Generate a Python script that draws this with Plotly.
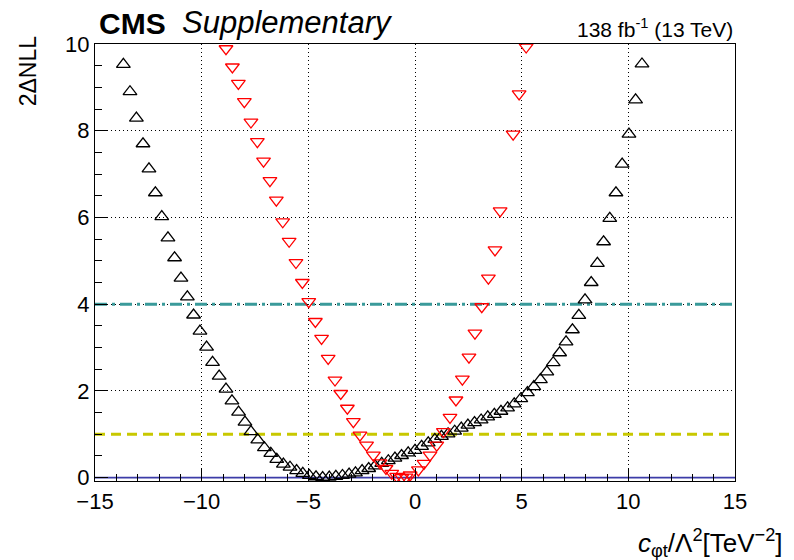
import plotly.graph_objects as go

# Likelihood scan points: observed (black) and expected (red)
obs_x = [-13.67, -13.36, -13.06, -12.75, -12.47, -12.17, -11.87, -11.58, -11.27, -10.97,
         -10.67, -10.38, -10.08, -9.77, -9.49, -9.18, -8.86, -8.58, -8.27, -7.97,
         -7.69, -7.37, -7.06, -6.76, -6.48, -6.17, -5.86, -5.55, -5.26, -4.95,
         -4.64, -4.33, -4.02, -3.71, -3.40, -3.09, -2.79, -2.48, -2.17, -1.87,
         -1.56, -1.25, -0.94, -0.63, -0.32, 0.00, 0.31, 0.62, 0.93, 1.24,
         1.55, 1.86, 2.17, 2.48, 2.79, 3.10, 3.41, 3.72, 4.03, 4.34,
         4.65, 4.96, 5.27, 5.57, 5.88, 6.18, 6.48, 6.78, 7.08, 7.38,
         7.68, 7.97, 8.26, 8.55, 8.84, 9.13, 9.42, 9.71, 10.03, 10.34, 10.64]
obs_y = [9.53, 8.90, 8.29, 7.70, 7.12, 6.57, 6.02, 5.53, 5.07, 4.60,
         4.17, 3.75, 3.38, 3.01, 2.66, 2.34, 2.04, 1.77, 1.51, 1.28,
         1.06, 0.87, 0.69, 0.56, 0.42, 0.31, 0.24, 0.16, 0.10, 0.05,
         0.02, 0.00, 0.01, 0.03, 0.05, 0.08, 0.11, 0.16, 0.21, 0.27,
         0.33, 0.39, 0.45, 0.51, 0.57, 0.63, 0.72, 0.80, 0.88, 0.95,
         1.01, 1.07, 1.14, 1.21, 1.27, 1.33, 1.40, 1.46, 1.53, 1.61,
         1.70, 1.82, 1.96, 2.10, 2.26, 2.44, 2.65, 2.88, 3.13, 3.41,
         3.74, 4.10, 4.50, 4.94, 5.44, 5.98, 6.57, 7.23, 7.92, 8.71, 9.54]

exp_x = [-8.86, -8.56, -8.28, -8.00, -7.69, -7.39, -7.10, -6.80, -6.50, -6.20,
         -5.90, -5.58, -5.28, -4.98, -4.67, -4.38, -4.07, -3.75, -3.48, -3.17,
         -2.89, -2.58, -2.27, -1.95, -1.64, -1.36, -1.09, -0.86, -0.62, -0.42,
         -0.23, 0.16, 0.42, 0.70, 1.02, 1.33, 1.64, 1.92, 2.22, 2.53,
         2.81, 3.13, 3.44, 3.75, 3.99, 4.60, 4.88, 5.21]
exp_y = [9.89, 9.47, 9.09, 8.67, 8.20, 7.75, 7.30, 6.85, 6.40, 5.90,
         5.45, 4.96, 4.50, 4.06, 3.60, 3.21, 2.75, 2.25, 1.94, 1.60,
         1.29, 0.98, 0.75, 0.52, 0.34, 0.21, 0.10, 0.03, 0.00, 0.01,
         0.06, 0.18, 0.33, 0.52, 0.75, 1.06, 1.39, 1.79, 2.27, 2.78,
         3.33, 3.94, 4.60, 5.25, 6.15, 7.92, 8.85, 9.93]

x_range = [-15, 15]
y_range = [-0.078, 10]
x_ticks = [-15, -10, -5, 0, 5, 10, 15]
y_ticks = [0, 2, 4, 6, 8, 10]

# Reference levels of 2ΔNLL
levels = [0, 1, 4]
level_colors = ["#3c3ca8", "#c8c800", "#3a9a9a"]
level_dash = ["solid", "10px,6px", "12px,5px,3px,5px"]
level_width = [1.6, 3, 3]

FONT = "Liberation Sans, Arial, Helvetica, sans-serif"

fig = go.Figure()

for lv, col, dsh, w in zip(levels, level_colors, level_dash, level_width):
    fig.add_trace(go.Scatter(
        x=x_range, y=[lv, lv], mode="lines",
        line=dict(color=col, dash=dsh, width=w),
        hoverinfo="skip", showlegend=False,
    ))

fig.add_trace(go.Scatter(
    x=obs_x, y=obs_y, mode="markers", showlegend=False,
    marker=dict(symbol="triangle-up-open", size=12, color="black",
                line=dict(width=1.3, color="black")),
))
fig.add_trace(go.Scatter(
    x=exp_x, y=exp_y, mode="markers", showlegend=False,
    marker=dict(symbol="triangle-down-open", size=12, color="red",
                line=dict(width=1.3, color="red")),
))

axis_common = dict(
    showline=True, linecolor="black", linewidth=1.2, mirror=True,
    ticks="inside", tickcolor="black", ticklen=13, tickwidth=1,
    showgrid=True, gridcolor="black", gridwidth=1, griddash="1px,3px",
    zeroline=False,
    tickfont=dict(family=FONT, size=22, color="black"),
)

fig.update_xaxes(
    range=x_range, tickmode="array", tickvals=x_ticks,
    minor=dict(ticks="inside", ticklen=7, tickcolor="black", dtick=1, showgrid=False),
    **axis_common,
)
fig.update_yaxes(
    range=y_range, tickmode="array", tickvals=y_ticks,
    minor=dict(ticks="inside", ticklen=7, tickcolor="black", dtick=0.5, tick0=0, showgrid=False),
    **axis_common,
)

fig.update_layout(
    width=794, height=560,
    margin=dict(l=95, r=59, t=44, b=79),
    paper_bgcolor="white", plot_bgcolor="white",
    font=dict(family=FONT, color="black"),
    annotations=[
        dict(text="<b>CMS</b>", x=0.003, y=1.0, xref="paper", yref="paper",
             xanchor="left", yanchor="bottom", yshift=2, showarrow=False,
             font=dict(family=FONT, size=30)),
        dict(text="<i>Supplementary</i>", x=0.133, y=1.0, xref="paper", yref="paper",
             xanchor="left", yanchor="bottom", yshift=2, showarrow=False,
             font=dict(family=FONT, size=31)),
        dict(text="138 fb<sup>-1</sup> (13 TeV)", x=1.0, y=1.0, xref="paper", yref="paper",
             xanchor="right", yanchor="bottom", yshift=1, showarrow=False,
             font=dict(family=FONT, size=21)),
        dict(text="2ΔNLL", x=-0.105, y=1.0, xref="paper", yref="paper",
             xanchor="center", yanchor="top", yshift=11, textangle=-90, showarrow=False,
             font=dict(family=FONT, size=23)),
        dict(text="<i>c</i><sub>φt</sub>/Λ<sup>2</sup>[TeV<sup>−2</sup>]",
             x=1.078, y=0, xref="paper", yref="paper",
             xanchor="right", yanchor="middle", yshift=-62, showarrow=False,
             font=dict(family=FONT, size=26)),
    ],
)

fig.write_html("out.html")
